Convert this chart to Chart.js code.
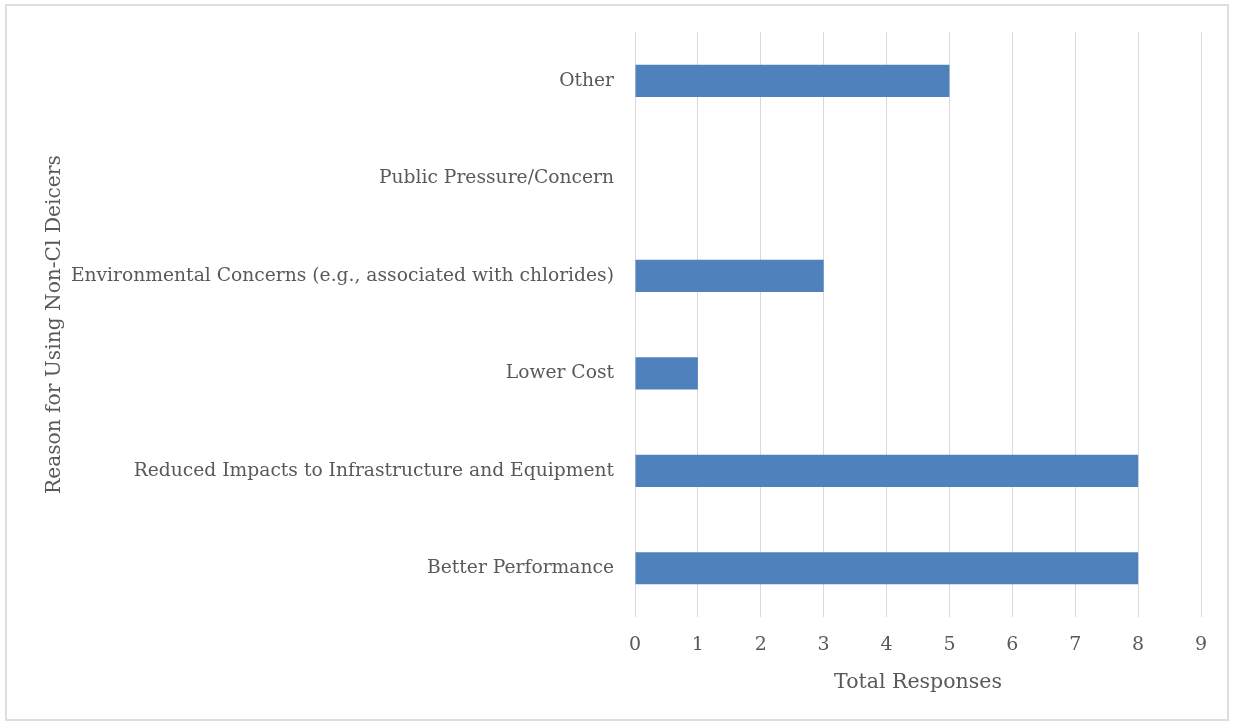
<!DOCTYPE html>
<html>
<head>
<meta charset="utf-8">
<script src="https://cdn.jsdelivr.net/npm/chart.js@4/dist/chart.umd.min.js"></script>
<style>
  body { margin: 0; background: #fff; }
  #frame {
    position: absolute; left: 5px; top: 4px;
    width: 1220px; height: 713px;
    border: 2px solid #dedede;
  }
  #graph { position: absolute; left: 0; top: 0; }
</style>
</head>
<body>
<div id="frame"></div>
<canvas id="graph" width="1233" height="725"></canvas>
<script>
// reasons, listed top to bottom
var reasons = [
  'Other',
  'Public Pressure/Concern',
  'Environmental Concerns (e.g., associated with chlorides)',
  'Lower Cost',
  'Reduced Impacts to Infrastructure and Equipment',
  'Better Performance'
];
var responses = [5, 0, 3, 1, 8, 8];
var xMax = 9;

var font = "'DejaVu Serif', serif";
var textColor = '#595959';
var gridColor = '#d9d9d9';

var ctx = document.getElementById('graph').getContext('2d');
var chart = new Chart(ctx, {
  type: 'bar',
  data: {
    labels: reasons,
    datasets: [{
      label: 'Total Responses',
      data: responses,
      backgroundColor: '#4f81bd',
      borderWidth: 0,
      categoryPercentage: 1,
      barPercentage: 0.33
    }]
  },
  options: {
    indexAxis: 'y',
    responsive: false,
    animation: false,
    layout: { padding: { left: 40, right: 32, top: 31, bottom: 20 } },
    plugins: {
      legend: { display: false },
      tooltip: { enabled: false }
    },
    scales: {
      x: {
        min: 0,
        max: xMax,
        ticks: { stepSize: 1, padding: 17, color: textColor, font: { family: font, size: 19 } },
        grid: { color: gridColor, lineWidth: 1, drawTicks: false },
        border: { display: false },
        title: {
          display: true,
          text: 'Total Responses',
          color: textColor,
          font: { family: font, size: 20.5 },
          padding: { top: 4, bottom: 10 }
        },
        afterFit: function (s) { s.height = 725 - 617 - 20; }
      },
      y: {
        ticks: { padding: 21, color: textColor, font: { family: font, size: 18.7 } },
        grid: { display: false, drawTicks: false },
        border: { display: false },
        title: {
          display: true,
          text: 'Reason for Using Non-Cl Deicers',
          color: textColor,
          font: { family: font, size: 20.2 },
          padding: { top: 3, bottom: 4 }
        },
        afterFit: function (s) { s.width = 635 - 40; }
      }
    }
  }
});
</script>
</body>
</html>
